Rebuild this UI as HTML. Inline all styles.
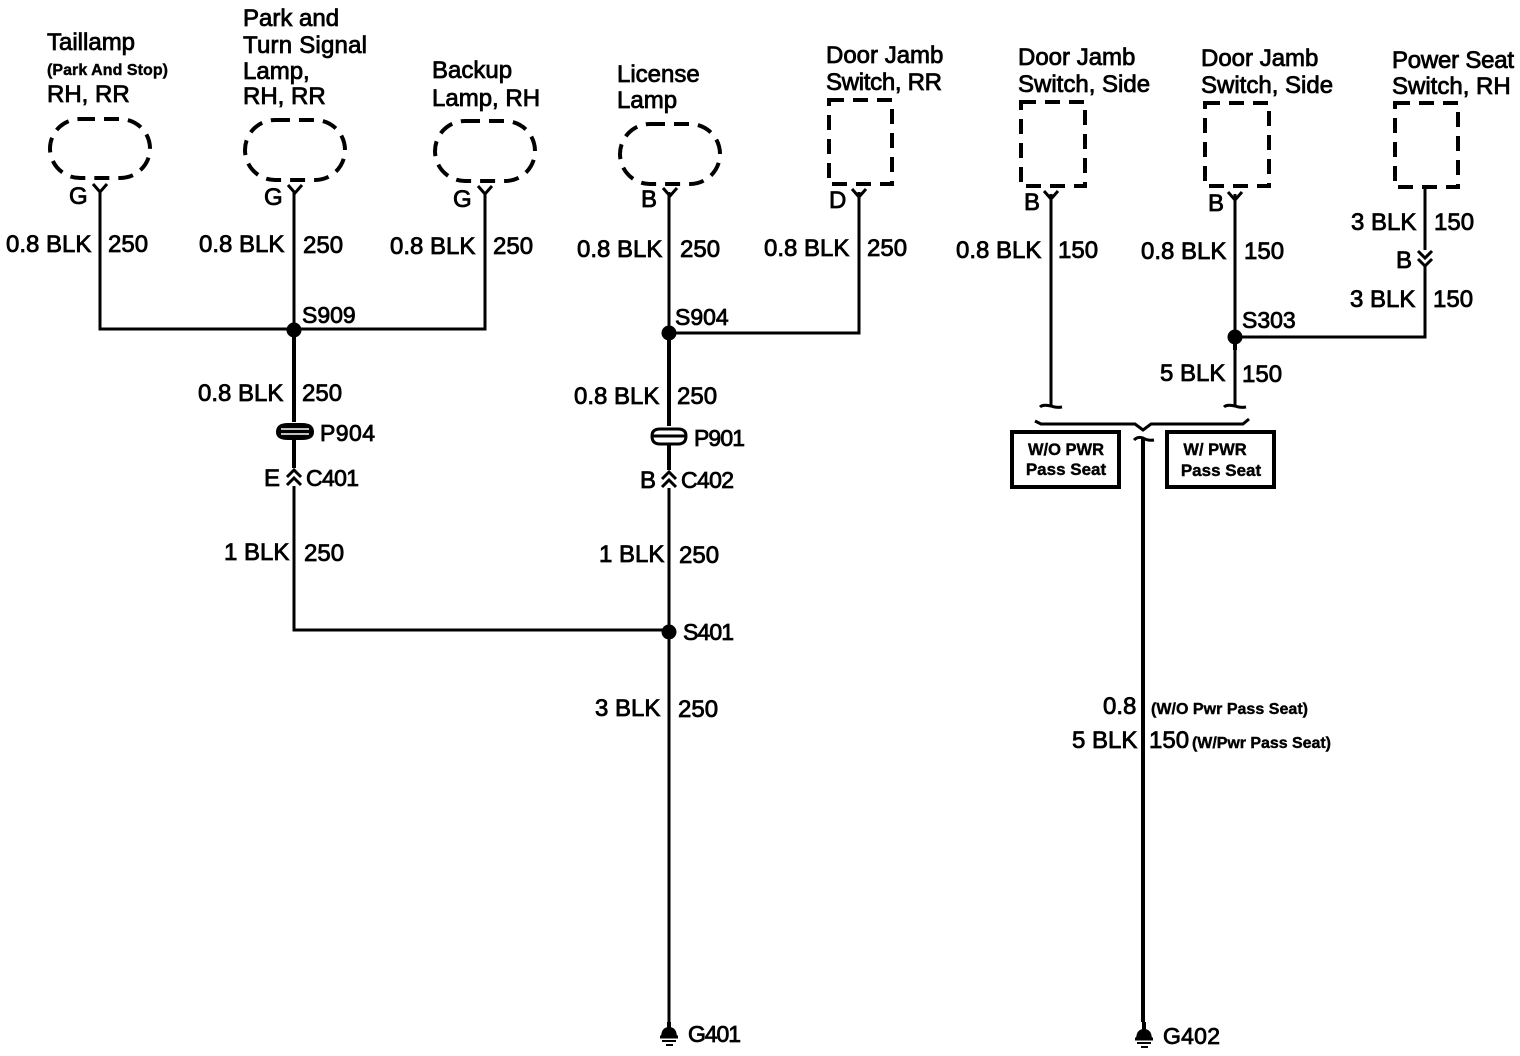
<!DOCTYPE html>
<html><head><meta charset="utf-8"><style>
html,body{margin:0;padding:0;background:#fff}
svg{display:block}
text{font-family:"Liberation Sans",sans-serif;font-size:24px;fill:#000;stroke:#000;stroke-width:.8px}
.r{font-size:23px}
.s{font-size:16px;font-weight:bold;stroke-width:.4px}
.w{stroke:#000;stroke-width:3px;fill:none}
.t{stroke:#000;stroke-width:4px;fill:none}
.d{stroke:#000;stroke-width:4px;fill:none;stroke-dasharray:15 9}
.b{stroke:#000;stroke-width:4px;fill:#fff}
</style></head><body>
<svg width="1520" height="1056" viewBox="0 0 1520 1056" xmlns="http://www.w3.org/2000/svg">
<rect width="1520" height="1056" fill="#fff"/>

<!-- components -->
<rect class="d" x="50" y="119" width="100" height="59" rx="30"/>
<rect class="d" x="245" y="120" width="100" height="60" rx="30"/>
<rect class="d" x="435" y="121" width="100" height="60" rx="30"/>
<rect class="d" x="620" y="124" width="100" height="60" rx="30"/>
<rect class="d" x="829" y="100" width="63" height="84"/>
<rect class="d" x="1021" y="102" width="64" height="84"/>
<rect class="d" x="1205" y="103" width="64" height="83"/>
<rect class="d" x="1395" y="103" width="63" height="84"/>

<!-- wires -->
<path class="w" d="M100 192V329H485V192"/>
<path class="w" d="M294 192V329"/>
<path class="t" d="M294 329V422M294 440V468"/>
<path class="w" d="M294 486V630H669"/>
<path class="w" d="M669 192V333H859V192"/>
<path class="t" d="M669 333V426M669 444V470"/>
<path class="w" d="M669 488V1022"/>
<path class="w" d="M1051 194V405"/>
<path class="w" d="M1235 194V405"/>
<path class="t" d="M1235 337V350"/>
<path class="w" d="M1235 337H1425V265M1425 187V250"/>
<path class="t" d="M1143 438V1022"/>

<!-- Y connectors -->
<path class="w" d="M93 184L100 192L107 184"/>
<path class="w" d="M288 185L295 193L302 185"/>
<path class="w" d="M478 186L485 194L492 186"/>
<path class="w" d="M663 188L670 196L677 188"/>
<path class="w" d="M852 189L859 197L866 189"/>
<path class="w" d="M1044 191L1051 199L1058 191"/>
<path class="w" d="M1228 192L1235 200L1242 192"/>

<!-- inline connector B (double chevron down) -->
<path class="w" d="M1418 251L1425 258L1432 251M1418 259L1425 266L1432 259"/>

<!-- C401 / C402 double chevrons up -->
<path class="w" d="M287 477L294 470L301 477M287 485L294 478L301 485"/>
<path class="w" d="M662 479L669 472L676 479M662 487L669 480L676 487"/>

<!-- splices -->
<circle cx="294" cy="330" r="7.5"/>
<circle cx="669" cy="333" r="7.5"/>
<circle cx="669" cy="632" r="7.5"/>
<circle cx="1235" cy="337" r="7.5"/>

<!-- P904 / P901 -->
<path d="M276 432Q276 423 288 423H302Q314 423 314 432Q314 440 302 440H288Q276 440 276 432Z" fill="#000"/>
<path d="M281 429H309M281 434H309" stroke="#fff" stroke-width="1.5"/>
<path d="M652 436Q652 429 660 429H678Q686 429 686 436Q686 444 678 444H660Q652 444 652 436Z" fill="#fff" stroke="#000" stroke-width="3"/>
<path d="M652 436H686" stroke="#000" stroke-width="3"/>

<!-- break symbols -->
<path class="w" d="M1040 407Q1043 404 1051 406Q1056 408 1062 407"/>
<path class="w" d="M1224 407Q1227 404 1235 406Q1240 408 1246 407"/>
<path class="w" d="M1035 421L1041 424H1135L1143 430L1151 424H1243L1249 419"/>
<path class="w" d="M1134 440Q1138 436 1143 438Q1148 441 1154 440"/>

<!-- option boxes -->
<rect class="b" x="1012" y="432" width="107" height="55"/>
<rect class="b" x="1167" y="432" width="107" height="55"/>
<text class="s" style="font-size:16.5px" x="1066" y="455" text-anchor="middle">W/O PWR</text>
<text class="s" style="font-size:17px" x="1066" y="475" text-anchor="middle">Pass Seat</text>
<text class="s" style="font-size:16.5px" x="1215" y="455" text-anchor="middle">W/ PWR</text>
<text class="s" style="font-size:17px" x="1221" y="476" text-anchor="middle">Pass Seat</text>

<!-- grounds -->
<path class="t" d="M669 1022V1030"/>
<path d="M661 1038Q661 1027 669 1027Q677 1027 677 1038Z" fill="#000"/>
<path class="w" d="M660 1037H678"/><path d="M662 1041H676M666 1045H673" stroke="#000" stroke-width="2"/>
<path class="t" d="M1144 1022V1032"/>
<path d="M1136 1040Q1136 1029 1144 1029Q1152 1029 1152 1040Z" fill="#000"/>
<path class="w" d="M1135 1039H1153"/><path d="M1137 1043H1151M1141 1047H1148" stroke="#000" stroke-width="2"/>

<!-- component labels -->
<text x="47" y="50">Taillamp</text>
<text class="s" x="47" y="75" textLength="121">(Park And Stop)</text>
<text x="47" y="102">RH, RR</text>
<text x="243" y="26">Park and</text>
<text x="243" y="53" textLength="124">Turn Signal</text>
<text x="243" y="79">Lamp,</text>
<text x="243" y="104">RH, RR</text>
<text x="432" y="78">Backup</text>
<text x="432" y="106">Lamp, RH</text>
<text x="617" y="82">License</text>
<text x="617" y="108">Lamp</text>
<text x="826" y="63">Door Jamb</text>
<text x="826" y="90" textLength="116">Switch, RR</text>
<text x="1018" y="65">Door Jamb</text>
<text x="1018" y="92">Switch, Side</text>
<text x="1201" y="66">Door Jamb</text>
<text x="1201" y="93">Switch, Side</text>
<text x="1392" y="68" textLength="122">Power Seat</text>
<text x="1392" y="94">Switch, RH</text>

<!-- pin letters -->
<text x="69" y="204">G</text>
<text x="264" y="205">G</text>
<text x="453" y="207">G</text>
<text x="641" y="207">B</text>
<text x="829" y="208">D</text>
<text x="1024" y="210">B</text>
<text x="1208" y="211">B</text>
<text x="1396" y="268">B</text>
<text x="264" y="486">E</text>
<text x="640" y="488">B</text>

<!-- wire labels -->
<text x="6" y="252">0.8 BLK</text><text x="108" y="252">250</text>
<text x="199" y="252">0.8 BLK</text><text x="303" y="253">250</text>
<text x="390" y="254">0.8 BLK</text><text x="493" y="254">250</text>
<text x="577" y="257">0.8 BLK</text><text x="680" y="257">250</text>
<text x="764" y="256">0.8 BLK</text><text x="867" y="256">250</text>
<text x="956" y="258">0.8 BLK</text><text x="1058" y="258">150</text>
<text x="1141" y="259">0.8 BLK</text><text x="1244" y="259">150</text>
<text x="1351" y="230">3 BLK</text><text x="1434" y="230">150</text>
<text x="1350" y="307">3 BLK</text><text x="1433" y="307">150</text>
<text x="1160" y="381">5 BLK</text><text x="1242" y="382">150</text>
<text x="198" y="401">0.8 BLK</text><text x="302" y="401">250</text>
<text x="574" y="404">0.8 BLK</text><text x="677" y="404">250</text>
<text x="224" y="560">1 BLK</text><text x="304" y="561">250</text>
<text x="599" y="562">1 BLK</text><text x="679" y="563">250</text>
<text x="595" y="716">3 BLK</text><text x="678" y="717">250</text>
<text x="1103" y="714">0.8</text>
<text class="s" x="1151" y="714" textLength="157">(W/O Pwr Pass Seat)</text>
<text x="1072" y="748">5 BLK</text>
<text x="1149" y="748">150</text>
<text class="s" x="1192" y="748" textLength="139">(W/Pwr Pass Seat)</text>

<!-- reference labels -->
<text class="r" x="302" y="323">S909</text>
<text class="r" x="675" y="325">S904</text>
<text class="r" x="1242" y="328">S303</text>
<text class="r" x="683" y="640" textLength="51">S401</text>
<text class="r" x="320" y="441" textLength="55">P904</text>
<text class="r" x="694" y="446" textLength="51">P901</text>
<text class="r" x="306" y="486" textLength="53">C401</text>
<text class="r" x="681" y="488" textLength="53">C402</text>
<text class="r" x="688" y="1042" textLength="53">G401</text>
<text class="r" x="1163" y="1044" textLength="57">G402</text>
</svg>
</body></html>
